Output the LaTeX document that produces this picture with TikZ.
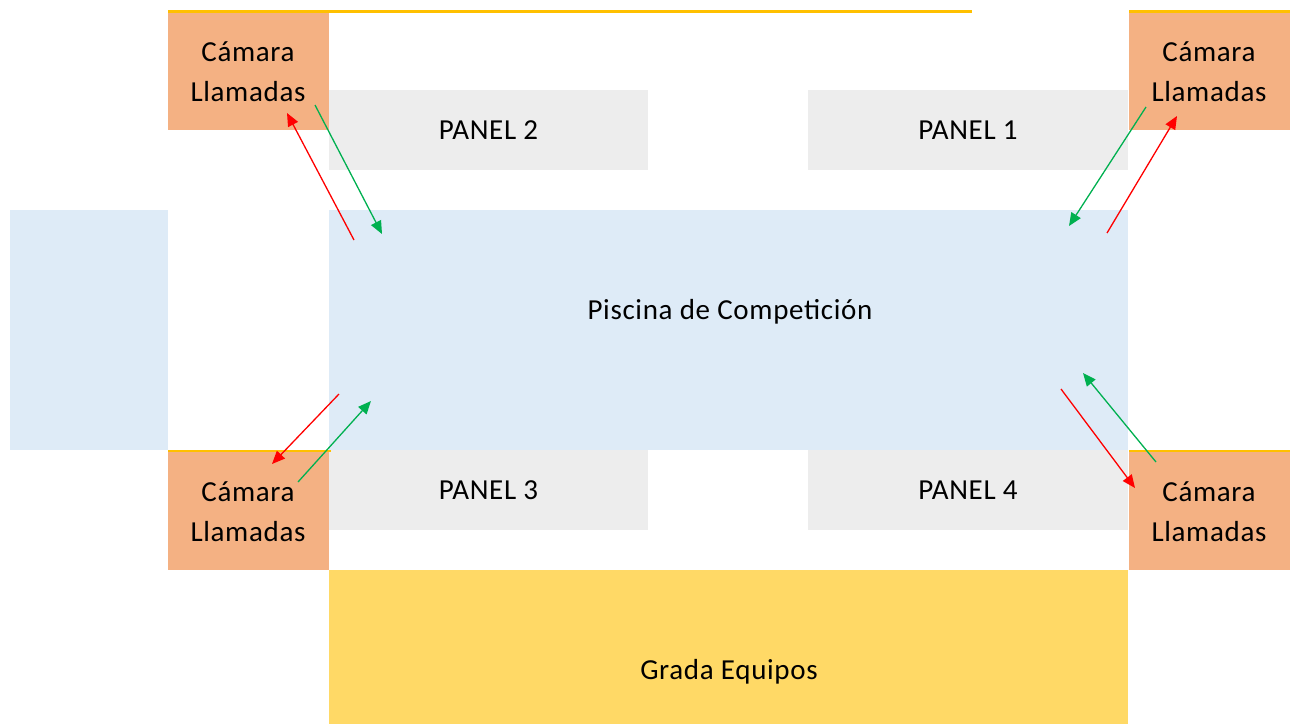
\documentclass[tikz,border=0pt]{standalone}
\usepackage{fontspec}
\setmainfont{Carlito}[LetterSpace=2.3]
\usetikzlibrary{arrows.meta}
\definecolor{camfill}{HTML}{F4B183}
\definecolor{panelfill}{HTML}{EDEDED}
\definecolor{poolfill}{HTML}{DEEBF7}
\definecolor{gradafill}{HTML}{FFD966}
\definecolor{goldline}{HTML}{FFC000}
\definecolor{arrred}{HTML}{FF0000}
\definecolor{arrgreen}{HTML}{00B050}
\tikzset{
  area/.style={rectangle, inner sep=0pt, outer sep=0pt, draw=none, anchor=north west,
    font=\fontsize{29}{40}\selectfont, align=center},
  cam/.style={area, fill=camfill, minimum width=161pt, minimum height=118pt},
  panelbox/.style={area, fill=panelfill, minimum width=320pt, minimum height=80pt},
  pool/.style={area, fill=poolfill},
  lbl/.style={inner sep=0pt, font=\fontsize{29}{40}\selectfont, align=center},
  edge/.style={goldline, line width=2.5pt},
  redarr/.style={arrred, line width=1.3pt, -{Triangle[length=13pt,width=11pt]}},
  greenarr/.style={arrgreen, line width=1.3pt, -{Triangle[length=13pt,width=11pt]}},
}
\begin{document}
\begin{tikzpicture}[x=1pt,y=-1pt]
\useasboundingbox (0,0) rectangle (1290,724);
% areas
\node[cam] (camTL) at (168,12) {};
\node[cam] (camTR) at (1129,12) {};
\node[cam, minimum height=120pt] (camBL) at (168,450) {};
\node[cam, minimum height=120pt] (camBR) at (1129,450) {};
\node[panelbox, minimum width=319pt] (p2) at (329,90) {PANEL 2};
\node[panelbox] (p1) at (808,90) {PANEL 1};
\node[panelbox, minimum width=319pt] (p3) at (329,450) {PANEL 3};
\node[panelbox] (p4) at (808,450) {PANEL 4};
\node[pool, minimum width=158pt, minimum height=240pt] (side) at (10,210) {};
\node[pool, minimum width=799pt, minimum height=240pt] (piscina) at (329,210) {};
\node[area, fill=gradafill, minimum width=799pt, minimum height=154pt] (grada) at (329,570) {};
% labels
\node[lbl] (tTL) at (248,72) {Cámara\\Llamadas};
\node[lbl] (tTR) at (1209,72) {Cámara\\Llamadas};
\node[lbl] (tBL) at (248,512) {Cámara\\Llamadas};
\node[lbl] (tBR) at (1209,512) {Cámara\\Llamadas};
\node[lbl] (tPool) at (730,312) {Piscina de Competición};
\node[lbl] (tGrada) at (729,672) {Grada Equipos};
% gold edges
\coordinate (g1) at (168,11.5); \coordinate (g2) at (972,11.5);
\coordinate (g3) at (1129,11.5); \coordinate (g4) at (1290,11.5);
\coordinate (g5) at (168,451); \coordinate (g6) at (331,451);
\coordinate (g7) at (1129,451); \coordinate (g8) at (1290,451);
\draw[edge] (g1) -- (g2);
\draw[edge] (g3) -- (g4);
\draw[edge] (g5) -- (g6);
\draw[edge] (g7) -- (g8);
% arrow ends
\coordinate (a1s) at (354,240); \coordinate (a1e) at (287,113);
\coordinate (a2s) at (315,105); \coordinate (a2e) at (382,234);
\coordinate (a3s) at (1146,107); \coordinate (a3e) at (1069,226);
\coordinate (a4s) at (1107,233); \coordinate (a4e) at (1177,116);
\coordinate (a5s) at (339,394); \coordinate (a5e) at (272,464);
\coordinate (a6s) at (298,482); \coordinate (a6e) at (371,401);
\coordinate (a7s) at (1061,389); \coordinate (a7e) at (1135,488);
\coordinate (a8s) at (1156,462); \coordinate (a8e) at (1083,373);
\draw[redarr] (a1s) -- (a1e);
\draw[greenarr] (a2s) -- (a2e);
\draw[greenarr] (a3s) -- (a3e);
\draw[redarr] (a4s) -- (a4e);
\draw[redarr] (a5s) -- (a5e);
\draw[greenarr] (a6s) -- (a6e);
\draw[redarr] (a7s) -- (a7e);
\draw[greenarr] (a8s) -- (a8e);
\end{tikzpicture}
\end{document}
